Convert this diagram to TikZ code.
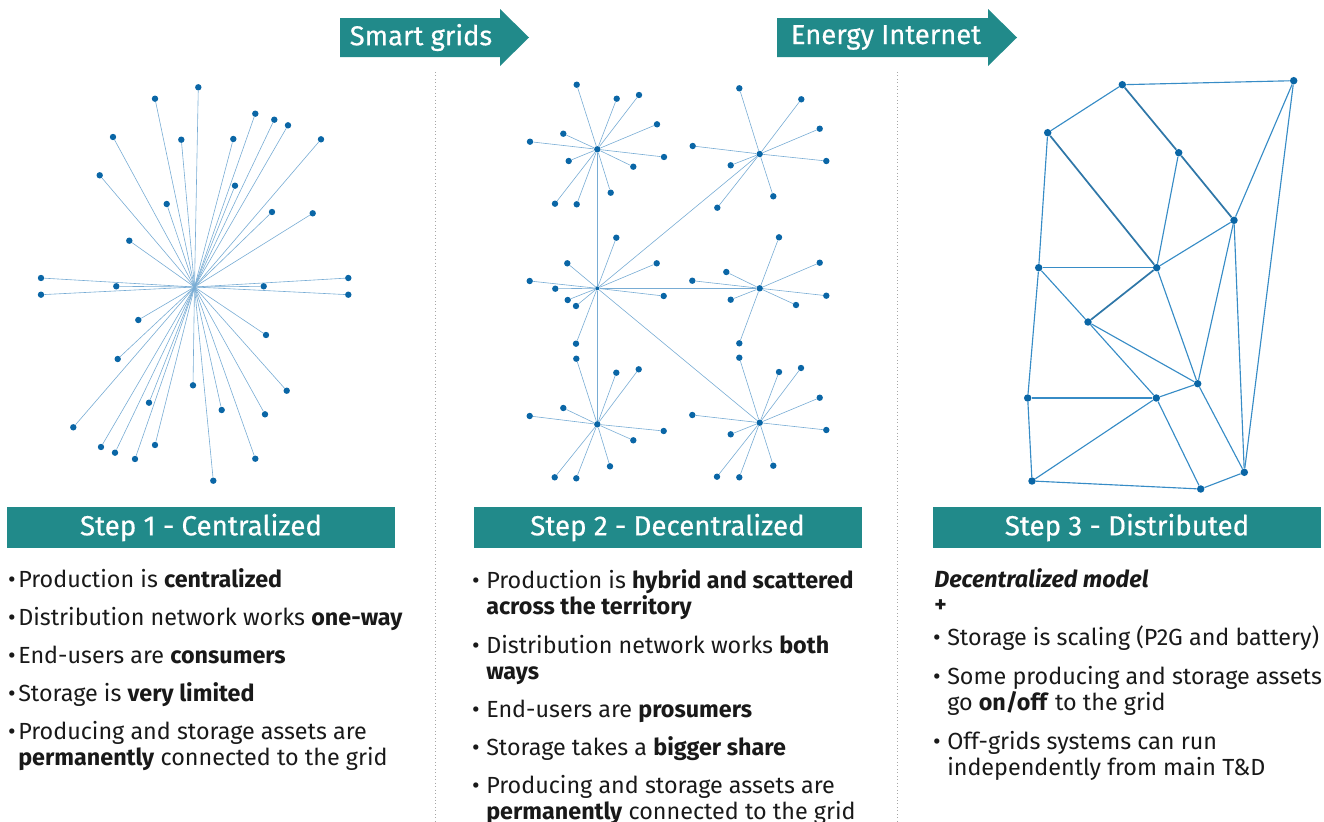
\documentclass[tikz,border=0pt]{standalone}
\usepackage{fontspec}
\setmainfont{Fira Sans}
\newfontfamily\titlefont[FakeBold=0.5]{Fira Sans}
\usetikzlibrary{positioning}
\definecolor{stepteal}{RGB}{33,138,138}
\definecolor{dotblue}{RGB}{10,102,166}
\definecolor{linkblue}{RGB}{120,172,212}
\definecolor{meshblue}{RGB}{55,140,198}
\definecolor{bodytext}{RGB}{25,25,25}
\tikzset{
  dot/.style={circle, fill=dotblue, inner sep=0pt, minimum size=4.8pt},
  bigdot/.style={dot, minimum size=5.6pt},
  link/.style={draw=linkblue, line width=0.45pt},
  mesh/.style={draw=meshblue, line width=0.85pt},
  meshbold/.style={draw=meshblue!85!black, line width=1.3pt},
  stepbar/.style={fill=stepteal, text=white, minimum width=291pt, minimum height=30.75pt,
                  inner sep=0pt, font=\titlefont\fontsize{20.8}{24}\selectfont},
  headtext/.style={text=white, inner sep=0pt, font=\titlefont\fontsize{20.5}{24}\selectfont},
  itemtext/.style={anchor=base west, align=left, inner sep=0pt, text=bodytext,
                   font=\fontsize{17.5}{19.5}\selectfont},
}
\newcommand{\itembullet}[1]{\llap{\textbullet\hspace{#1}}}
\begin{document}
\begin{tikzpicture}[x=0.75pt, y=-0.75pt]
  \useasboundingbox (0,0) rectangle (1324,821);
  % header arrows
  \fill[stepteal] (340,18) -- (500,18) -- (500,9) -- (529,37.5) -- (500,66) -- (500,57) -- (340,57) -- cycle;
  \node[headtext] (smartgrids) at (421,37.5) {Smart grids};
  \fill[stepteal] (777,18) -- (988,18) -- (988,9) -- (1017,37.5) -- (988,66) -- (988,57) -- (777,57) -- cycle;
  \node[headtext] (energyinternet) at (886,37.5) {Energy Internet};
  % separators
  \draw[gray!70, dotted, line width=0.6pt] (435,72) -- (435,821);
  \draw[gray!70, dotted, line width=0.6pt] (897,72) -- (897,821);

  % step 1 : one central hub
  \coordinate (hub1) at (194.5,287);
  \foreach \x/\y [count=\i] in {198.3/87.3, 155/98.7, 255.3/113.7, 274.3/119.7, 288/125.3,
      113/137, 181.3/139.7, 233.3/139, 321/139.3, 99.7/175.3, 235/185.7, 166.7/204,
      272/212, 312.7/213.3, 129.3/240.7, 41/278, 348.3/278, 116.3/286.3, 263.7/286.3,
      41/294.7, 348.3/294.7, 138.3/320, 266/335, 117.7/359, 193/385.3, 286.7/390.7,
      149/402.7, 221.7/410, 265/414.3, 73.3/427.3, 101/447, 115/452.7, 155/445,
      135/459, 255.3/458.7, 213.3/480.7}
  {
    \node[dot] (c\i) at (\x,\y) {};
    \draw[link] (hub1) -- (c\i);
  }

  % step 2 : six local hubs
  \node[dot] (hubA) at (597.3,149.3) {};
  \node[dot] (hubB) at (759.7,154) {};
  \node[dot, minimum size=3pt] (hubC) at (597.3,288.3) {};
  \node[dot] (hubD) at (759.7,288.3) {};
  \node[dot] (hubE) at (597.3,424.3) {};
  \node[dot] (hubF) at (759.7,422.7) {};
  \foreach \h in {A,B,D,E,F}
    \draw[link] (hubC) -- (hub\h);
  \foreach \x/\y [count=\i] in {576.7/84.7, 616.7/98.7, 639/95, 657/124.3, 563.3/133.7,
      530/141.7, 664/157, 568.7/161, 633.3/166.7, 610.7/192.7, 555/203.7, 576.7/204.3}
  {
    \node[dot] (a\i) at (\x,\y) {};
    \draw[link] (hubA) -- (a\i);
  }
  \foreach \x/\y [count=\i] in {739.3/88.3, 801.3/99.3, 819.7/128.7, 692.7/146,
      826.3/161, 730.7/165.3, 773.3/196.3, 717.3/207.7}
  {
    \node[dot] (b\i) at (\x,\y) {};
    \draw[link] (hubB) -- (b\i);
  }
  \foreach \x/\y [count=\i] in {616.3/237.7, 567.3/263.3, 656.7/263.3, 529.7/281,
      555.3/288.7, 663.7/296, 567.7/300, 576/306, 576/343.7}
  {
    \node[dot] (m\i) at (\x,\y) {};
    \draw[link] (hubC) -- (m\i);
  }
  \foreach \x/\y [count=\i] in {779/237.3, 819.7/262.7, 726.3/272, 692.3/280.7,
      826.3/295.7, 730.7/299.7, 796/305, 739.3/343.3}
  {
    \node[dot] (d\i) at (\x,\y) {};
    \draw[link] (hubD) -- (d\i);
  }
  \foreach \x/\y [count=\i] in {576.3/358.7, 616.3/372.7, 638.7/369.3, 563.3/408,
      529.7/416, 663.7/431, 633.3/440.3, 610/466.3, 554.7/477.3, 576.3/478.3}
  {
    \node[dot] (e\i) at (\x,\y) {};
    \draw[link] (hubE) -- (e\i);
  }
  \foreach \x/\y [count=\i] in {739.3/357.7, 779/372, 801/368, 819.7/397.7, 692.3/415,
      826.3/430, 730.7/434.3, 773.3/465.7, 717/476.7, 739.3/477.3}
  {
    \node[dot] (f\i) at (\x,\y) {};
    \draw[link] (hubF) -- (f\i);
  }

  % step 3 : meshed grid
  \foreach \x/\y [count=\i] in {1122.3/84.7, 1293.7/80.7, 1047.7/132.7, 1178.7/152.7,
      1234/220.3, 1038.7/267.7, 1156.7/267.7, 1088/322, 1197.7/383.7, 1027.7/398,
      1156.3/398, 1244.3/472.3, 1032/481, 1200.7/489}
    \node[bigdot] (n\i) at (\x,\y) {};
  \foreach \a/\b in {1/2, 1/3, 3/6, 4/7, 2/5, 2/12, 5/7, 5/9, 5/12, 6/7, 6/8, 6/10,
      7/9, 8/9, 8/11, 9/11, 9/12, 10/11, 10/13, 11/13, 11/14, 13/14, 14/12}
    \draw[mesh] (n\a) -- (n\b);
  \foreach \a/\b in {1/4, 4/5, 3/7, 7/8}
    \draw[meshbold] (n\a) -- (n\b);

  % step titles
  \node[stepbar] (step1) at (201,527.5) {Step 1 - Centralized};
  \node[stepbar] (step2) at (667.5,527.5) {Step 2 - Decentralized};
  \node[stepbar] (step3) at (1127,527.5) {Step 3 - Distributed};

  % step 1 text (multi-line nodes sit on their last baseline)
  \node[itemtext] (s1a) at (18,587) {\itembullet{2pt}Production is \textbf{centralized}};
  \node[itemtext] (s1b) at (18,625) {\itembullet{2pt}Distribution network works \textbf{one-way}};
  \node[itemtext] (s1c) at (18,663) {\itembullet{2pt}End-users are \textbf{consumers}};
  \node[itemtext] (s1d) at (18,701) {\itembullet{2pt}Storage is \textbf{very limited}};
  \node[itemtext] (s1e) at (18,765) {\itembullet{2pt}Producing and storage assets are\\
                                    \textbf{permanently} connected to the grid};
  % step 2 text
  \node[itemtext] (s2a) at (486,614) {\itembullet{5pt}Production is \textbf{hybrid and scattered}\\
                                     \textbf{across the territory}};
  \node[itemtext] (s2b) at (486,679) {\itembullet{5pt}Distribution network works \textbf{both}\\
                                     \textbf{ways}};
  \node[itemtext] (s2c) at (486,717) {\itembullet{5pt}End-users are \textbf{prosumers}};
  \node[itemtext] (s2d) at (486,755) {\itembullet{5pt}Storage takes a \textbf{bigger share}};
  \node[itemtext] (s2e) at (486,819) {\itembullet{5pt}Producing and storage assets are\\
                                     \textbf{permanently} connected to the grid};
  % step 3 text
  \node[itemtext] (s3a) at (934,587) {\textbf{\textit{Decentralized model}}};
  \node[itemtext] (s3b) at (934,612) {\textbf{+}};
  \node[itemtext] (s3c) at (947,645) {\itembullet{5pt}Storage is scaling (P2G and battery)};
  \node[itemtext] (s3d) at (947,710) {\itembullet{5pt}Some producing and storage assets\\
                                     go \textbf{on/off} to the grid};
  \node[itemtext] (s3e) at (947,775) {\itembullet{5pt}Off-grids systems can run\\
                                     independently from main T\&D};
\end{tikzpicture}
\end{document}
